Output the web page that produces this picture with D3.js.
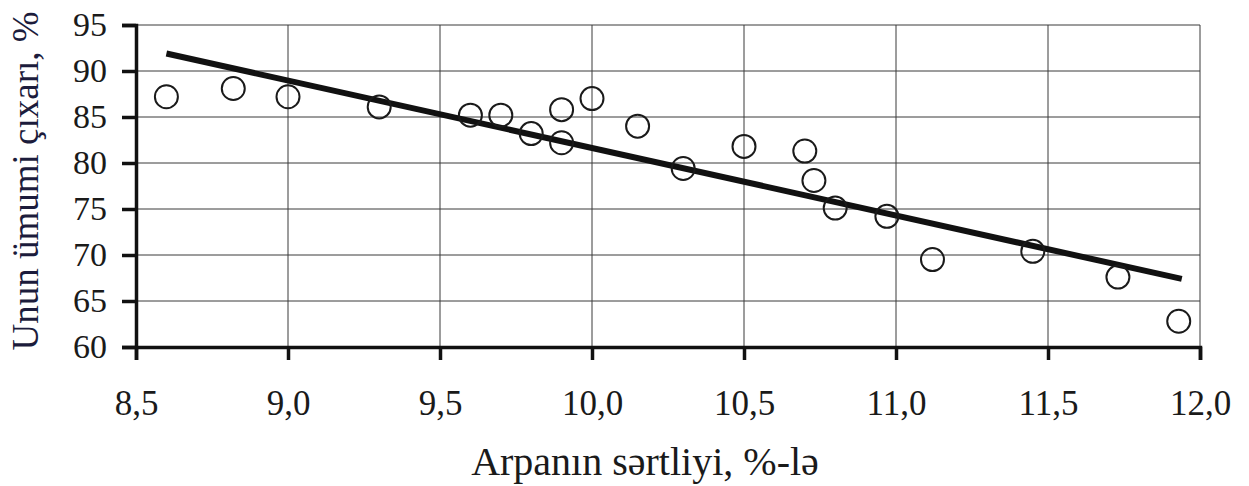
<!DOCTYPE html>
<html>
<head>
<meta charset="utf-8">
<script src="https://cdn.jsdelivr.net/npm/d3@7"></script>
<style>
  html, body { margin: 0; padding: 0; background: #fff; }
  svg { display: block; }
  svg text { font-family: "Liberation Serif", "Times New Roman", Times, serif; }
</style>
</head>
<body>
<svg id="chart" width="1249" height="486"></svg>
<script>
// ---- data ----
const hardness = [8.6, 8.82, 9.0, 9.3, 9.6, 9.7, 9.8, 9.9, 9.9, 10.0, 10.15, 10.3, 10.5, 10.7, 10.73, 10.8, 10.97, 11.12, 11.45, 11.73, 11.93];
const flourYield = [87.2, 88.1, 87.2, 86.1, 85.2, 85.2, 83.2, 85.8, 82.2, 87.0, 84.0, 79.4, 81.8, 81.3, 78.1, 75.1, 74.2, 69.5, 70.4, 67.6, 62.8];
const trendX = [8.6, 11.94];
const trendY = [91.9, 67.4];
const xTicks = [8.5, 9.0, 9.5, 10.0, 10.5, 11.0, 11.5, 12.0];
const yTicks = [60, 65, 70, 75, 80, 85, 90, 95];
const xTitle = "Arpanın sərtliyi, %-lə";
const yTitle = "Unun ümumi çıxarı, %";

// ---- layout ----
const svg = d3.select("#chart");
const pLeft = 136, pRight = 1200, pTop = 25, pBottom = 347;
const x = d3.scaleLinear().domain([8.5, 12.0]).range([pLeft, pRight]);
const y = d3.scaleLinear().domain([60, 95]).range([pBottom, pTop]);
const fmt = d => d.toFixed(1).replace(".", ",");
const serif = '"Liberation Serif", "Times New Roman", Times, serif';

// gridlines
const grid = svg.append("g").attr("stroke", "#3a3a3a").attr("stroke-width", 1);
grid.selectAll("line.h").data(yTicks.slice(1)).join("line")
  .attr("class", "h")
  .attr("x1", pLeft).attr("x2", pRight)
  .attr("y1", d => y(d)).attr("y2", d => y(d));
grid.selectAll("line.v").data(xTicks.slice(1)).join("line")
  .attr("class", "v")
  .attr("y1", pTop).attr("y2", pBottom)
  .attr("x1", d => x(d)).attr("x2", d => x(d));

// axes
const xAxis = svg.append("g").attr("transform", `translate(0,${pBottom})`)
  .call(d3.axisBottom(x).tickValues(xTicks).tickFormat(fmt).tickSize(13).tickPadding(30));
const yAxis = svg.append("g").attr("transform", `translate(${pLeft},0)`)
  .call(d3.axisLeft(y).tickValues(yTicks).tickFormat(d3.format("d")).tickSize(14).tickPadding(15));

[xAxis, yAxis].forEach(g => {
  g.attr("font-family", null);
  g.select(".domain").attr("stroke", "#111").attr("stroke-width", 3.5);
  g.selectAll(".tick line").attr("stroke", "#111").attr("stroke-width", 3.5);
  g.selectAll(".tick text").attr("fill", "#1a1a1a").style("font-family", serif);
});
xAxis.selectAll(".tick text").style("font-size", "35px");
yAxis.selectAll(".tick text").style("font-size", "34px");

// trend line
svg.append("line")
  .attr("x1", x(trendX[0])).attr("y1", y(trendY[0]))
  .attr("x2", x(trendX[1])).attr("y2", y(trendY[1]))
  .attr("stroke", "#111").attr("stroke-width", 6);

// points
svg.append("g").selectAll("circle").data(hardness).join("circle")
  .attr("cx", d => x(d))
  .attr("cy", (d, i) => y(flourYield[i]))
  .attr("r", 11.5)
  .attr("fill", "none")
  .attr("stroke", "#1a1a1a")
  .attr("stroke-width", 2);

// titles
svg.append("text")
  .attr("x", 645).attr("y", 475)
  .attr("text-anchor", "middle")
  .style("font-family", serif).style("font-size", "40px")
  .attr("fill", "#1a1a1a")
  .text(xTitle);

svg.append("text")
  .attr("transform", "translate(38,181) rotate(-90)")
  .attr("text-anchor", "middle")
  .style("font-family", serif).style("font-size", "37px")
  .attr("fill", "#1c1c3c")
  .text(yTitle);
</script>
</body>
</html>
